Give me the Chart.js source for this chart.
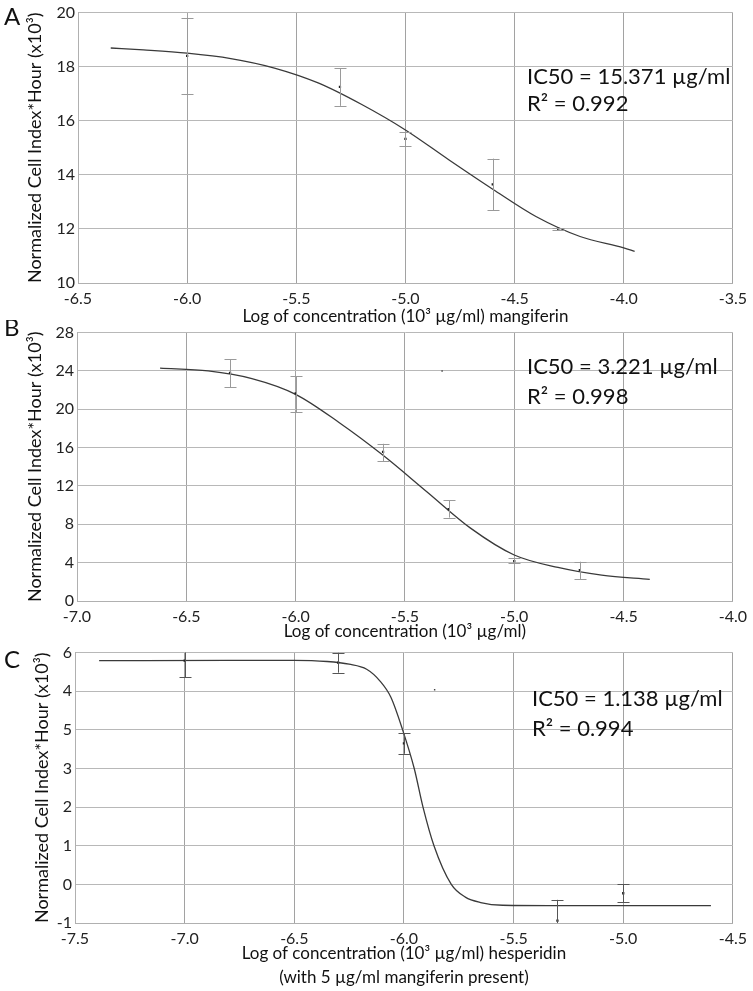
<!DOCTYPE html>
<html>
<head>
<meta charset="utf-8">
<script src="https://cdn.jsdelivr.net/npm/chart.js@4.4.1/dist/chart.umd.min.js"></script>
<style>
 html,body{margin:0;padding:0;background:#fff;}
 #wrap{position:relative;width:753px;height:991px;overflow:hidden;}
 canvas{position:absolute;left:0;}
</style>
</head>
<body>
<div id="wrap">
 <canvas id="chartA" width="753" height="330" style="top:0px"></canvas>
 <canvas id="chartB" width="753" height="325" style="top:320px"></canvas>
 <canvas id="chartC" width="753" height="351" style="top:640px"></canvas>
</div>
<script>
// panel A - mangiferin
const aDoseX=[-6.0,-5.3,-5.0,-4.6,-4.3];
const aMean=[18.4,17.25,15.33,13.65,12.0];
const aLow=[17.0,16.55,15.07,12.7,11.97];
const aHigh=[19.8,17.95,15.58,14.6,12.03];
const aFitX=[-6.35,-6.2,-6.0,-5.8,-5.6,-5.4,-5.2,-5.0,-4.8,-4.6,-4.4,-4.2,-4.0,-3.95];
const aFitY=[18.69,18.62,18.5,18.3,17.95,17.4,16.6,15.66,14.55,13.47,12.45,11.72,11.3,11.17];
const aStats=['IC50 = 15.371 µg/ml','R² = 0.992'];

// panel B
const bDoseX=[-6.3,-6.0,-5.6,-5.3,-5.0,-4.7];
const bMean=[23.8,21.67,15.55,9.58,4.17,3.23];
const bLow=[22.3,19.7,14.6,8.7,3.95,2.3];
const bHigh=[25.2,23.44,16.4,10.5,4.5,4.1];
const bFitX=[-6.62,-6.4,-6.2,-6.0,-5.8,-5.6,-5.4,-5.2,-5.0,-4.8,-4.6,-4.38];
const bFitY=[24.3,24.0,23.2,21.56,18.6,15.2,11.4,7.6,4.8,3.5,2.7,2.26];
const bStray=[{x:-5.33,y:24.0}];
const bStats=['IC50 = 3.221 µg/ml','R² = 0.998'];

// panel C - hesperidin with mangiferin
const cDoseX=[-7.0,-6.3,-6.0,-5.3,-5.0];
const cMean=[5.79,5.74,3.65,-0.94,-0.23];
const cLow=[5.36,5.48,3.38,-1.48,-0.46];
const cHigh=[6.22,6.0,3.91,-0.40,0.0];
const cFitX=[-7.39,-6.8,-6.5,-6.35,-6.25,-6.17,-6.11,-6.06,-6.006,-5.953,-5.913,-5.863,-5.784,-5.72,-5.65,-5.55,-5.3,-4.6];
const cFitY=[5.79,5.8,5.8,5.77,5.7,5.57,5.27,4.85,4.0,3.0,2.0,1.0,0.0,-0.33,-0.47,-0.54,-0.55,-0.55];
const cStray=[{x:-5.86,y:5.04}];
const cYLabels=['-1','0','1','2','3','5','4','6']; // as printed, from -1 upward
const cStats=['IC50 = 1.138 µg/ml','R² = 0.994'];

const yTitle='Normalized Cell Index*Hour (x10³)';
const FONT='Lato, "Open Sans", sans-serif';

const pts=(xs,ys)=>xs.map((x,i)=>({x,y:ys[i]}));

const errBars={
 id:'errBars',
 afterDatasetsDraw(chart,args,o){
   const {ctx,chartArea:ca}=chart,xs=chart.scales.x,ys=chart.scales.y;
   ctx.save();
   ctx.beginPath();ctx.rect(ca.left,ca.top,ca.right-ca.left,ca.bottom-ca.top);ctx.clip();
   ctx.strokeStyle=o.color;ctx.lineWidth=1;
   o.x.forEach((x,i)=>{
     const px=Math.round(xs.getPixelForValue(x))+0.5;
     const lo=ys.getPixelForValue(o.low[i]),hi=ys.getPixelForValue(o.high[i]);
     ctx.beginPath();
     ctx.moveTo(px,lo);ctx.lineTo(px,hi);
     ctx.moveTo(px-6,Math.round(lo)+0.5);ctx.lineTo(px+6,Math.round(lo)+0.5);
     ctx.moveTo(px-6,Math.round(hi)+0.5);ctx.lineTo(px+6,Math.round(hi)+0.5);
     ctx.stroke();
   });
   ctx.restore();
 }
};

const notes={
 id:'notes',
 afterDraw(chart,args,o){
   const ctx=chart.ctx;
   ctx.save();
   ctx.fillStyle='#111';ctx.textBaseline='middle';ctx.textAlign='left';
   ctx.font='24px '+FONT;
   ctx.fillText(o.letter,o.lx,o.ly);
   ctx.font='22px '+FONT;
   o.lines.forEach((t,i)=>ctx.fillText(t,o.tx,o.ty+i*o.gap));
   ctx.restore();
 }
};

function makePanel(id,p){
 const datasets=[
   {data:pts(p.fitX,p.fitY),showLine:true,borderColor:'#3a3a3a',borderWidth:1.3,pointRadius:0,
    cubicInterpolationMode:'monotone',order:2},
   {data:pts(p.doseX,p.mean),showLine:false,pointRadius:1.6,pointStyle:'rect',
    pointBackgroundColor:'#222',pointBorderWidth:0,order:1}
 ];
 if(p.stray) datasets.push({data:p.stray,showLine:false,pointRadius:1,pointStyle:'rect',
    pointBackgroundColor:'#444',pointBorderWidth:0});
 return new Chart(document.getElementById(id),{
   type:'scatter',
   data:{datasets},
   plugins:[errBars,notes],
   options:{
     responsive:false,animation:false,
     layout:{padding:{top:p.padTop,right:p.padRight,left:0,bottom:0}},
     plugins:{legend:{display:false},tooltip:{enabled:false},
       errBars:{x:p.doseX,low:p.low,high:p.high,color:p.errColor},
       notes:p.notes},
     scales:{
       x:{type:'linear',min:p.xMin,max:p.xMax,
          afterFit:s=>{s.height=p.xH;},
          ticks:{stepSize:0.5,padding:6,color:'#222',font:{family:FONT,size:16},
                 callback:v=>v.toFixed(1)},
          grid:{color:'#a2a2a2',drawTicks:false},
          border:{color:'#b0b0b0'},
          title:{display:true,text:p.xTitle,color:'#111',
                 font:{family:FONT,size:17,lineHeight:p.xLH||1.2},padding:{top:0,bottom:p.xTitlePad}}},
       y:{type:'linear',min:p.yMin,max:p.yMax,
          afterFit:s=>{s.width=p.yW;},
          ticks:{stepSize:p.yStep,padding:3,color:'#222',font:{family:FONT,size:16},
                 callback:p.yCb||(v=>v)},
          grid:{color:'#b8b8b8',drawTicks:false},
          border:{color:'#b0b0b0'},
          title:{display:true,text:yTitle,color:'#111',
                 font:{family:FONT,size:18,lineHeight:1.2},padding:{top:p.yTitlePad,bottom:0}}}
     }
   }
 });
}

makePanel('chartA',{doseX:aDoseX,mean:aMean,low:aLow,high:aHigh,fitX:aFitX,fitY:aFitY,
 errColor:'#9a9a9a',padTop:9,padRight:9,xH:47,yW:78,xMin:-6.5,xMax:-3.5,yMin:10,yMax:20,yStep:2,
 xTitle:'Log of concentration (10³ µg/ml) mangiferin',xTitlePad:3,yTitlePad:24,
 notes:{letter:'A',lx:4,ly:17,lines:aStats,tx:527,ty:77,gap:27}});

makePanel('chartB',{doseX:bDoseX,mean:bMean,low:bLow,high:bHigh,fitX:bFitX,fitY:bFitY,stray:bStray,
 errColor:'#9a9a9a',padTop:12,padRight:10,xH:44,yW:77,xMin:-7.0,xMax:-4.0,yMin:0,yMax:28,yStep:4,
 xTitle:'Log of concentration (10³ µg/ml)',xTitlePad:3,yTitlePad:24,
 notes:{letter:'B',lx:4,ly:8,lines:bStats,tx:527,ty:47,gap:30}});

makePanel('chartC',{doseX:cDoseX,mean:cMean,low:cLow,high:cHigh,fitX:cFitX,fitY:cFitY,stray:cStray,
 errColor:'#555',padTop:12,padRight:12,xH:68,yW:75,xMin:-7.5,xMax:-4.5,yMin:-1,yMax:6,yStep:1,
 yCb:v=>cYLabels[v+1],xLH:1.45,
 xTitle:['Log of concentration (10³ µg/ml) hesperidin','(with 5 µg/ml mangiferin present)'],xTitlePad:1,yTitlePad:31,
 notes:{letter:'C',lx:4,ly:20,lines:cStats,tx:532,ty:59,gap:30}});
</script>
</body>
</html>
